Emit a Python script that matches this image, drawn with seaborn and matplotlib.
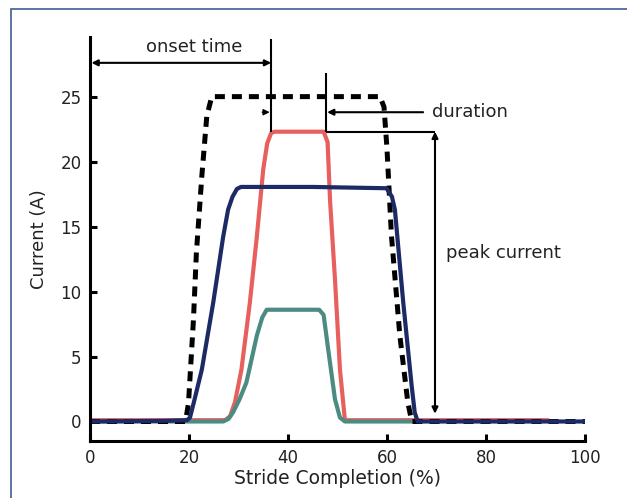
import matplotlib
matplotlib.use("Agg")
import matplotlib.pyplot as plt
import seaborn as sns
from matplotlib.patches import Rectangle

# stride completion (%) / current (A)
stride_dash = [0, 19.3, 19.9, 20.9, 21.5, 22.6, 23.6, 24.6, 58.6, 59.4, 60.0,
               60.9, 62.6, 64.2, 65.0, 100]
current_dash = [0, 0, 1.4, 7.8, 13, 18.9, 23.5, 25, 25, 24.2, 21,
                14.3, 6.6, 1.5, 0, 0]

stride_red = [0, 27.3, 28.3, 29.3, 30.6, 32.3, 33.7, 35.0, 35.8, 36.6, 37.3,
              47.2, 48.0, 48.5, 49.5, 50.5, 51.5, 92.5]
current_red = [0.1, 0.1, 0.4, 1.5, 4.0, 9.15, 14.2, 19.4, 21.4, 22.2, 22.3,
               22.3, 21.5, 17, 10.9, 4, 0.1, 0.1]

stride_teal = [0, 26.9, 28.0, 28.9, 30.2, 31.6, 33.7, 34.8, 35.7, 46.3, 47.2,
               48.0, 49.5, 50.5, 51.5, 65.5]
current_teal = [0, 0, 0.2, 0.7, 1.7, 3.0, 6.6, 8.0, 8.6, 8.6, 8.2,
                5.9, 1.7, 0.3, 0, 0]

stride_blue = [0, 15, 19.6, 20.2, 21.0, 22.6, 24.9, 26.9, 27.9, 28.8, 29.7,
               30.5, 45, 59.9, 61.0, 61.6, 63.3, 65.0, 65.6, 66.2, 100]
current_blue = [0, 0.05, 0.1, 0.3, 1.5, 4.0, 9.15, 14.2, 16.3, 17.3, 17.9,
                18.05, 18.05, 17.95, 17.3, 16.3, 9.1, 2.7, 0.7, 0, 0]

x_ticks = [0, 20, 40, 60, 80, 100]
y_ticks = [0, 5, 10, 15, 20, 25]

# annotation anchors
onset_x = 36.6
end_x = 47.7
peak_y = 22.3
peak_x = 69.7

sns.set_style("ticks")
plt.rcParams['font.family'] = ['DejaVu Sans']
text_color = "#222222"

fig = plt.figure(figsize=(6.27, 4.98), dpi=100)
ax = fig.add_axes([0.1435, 0.1145, 0.7895, 0.8115])

sns.lineplot(x=stride_red, y=current_red, ax=ax, color="#e8605e", lw=3.0, sort=False)
sns.lineplot(x=stride_teal, y=current_teal, ax=ax, color="#4b8b82", lw=3.0, sort=False)
sns.lineplot(x=stride_dash, y=current_dash, ax=ax, color="black", lw=3.6, sort=False)
ax.lines[-1].set_dashes((2.0, 1.4))
sns.lineplot(x=stride_blue, y=current_blue, ax=ax, color="#1c2a66", lw=3.0, sort=False)
for ln in ax.lines:
    ln.set_solid_joinstyle("round")

# annotations
ax.plot([onset_x, onset_x], [peak_y, 29.4], color="black", lw=1.5, solid_capstyle="butt")
ax.plot([end_x, end_x], [peak_y, 26.8], color="black", lw=1.5, solid_capstyle="butt")
ax.plot([end_x, peak_x], [peak_y, peak_y], color="black", lw=1.5, solid_capstyle="butt")
ax.annotate("", xy=(0.3, 27.6), xytext=(onset_x, 27.6),
            arrowprops=dict(arrowstyle="<|-|>", color="black", lw=1.5,
                            shrinkA=0, shrinkB=0, mutation_scale=9))
ax.text(21, 28.15, "onset time", ha="center", va="bottom", fontsize=13, color=text_color)
ax.annotate("", xy=(end_x + 0.2, 23.8), xytext=(67.3, 23.8),
            arrowprops=dict(arrowstyle="-|>", color="black", lw=1.5,
                            shrinkA=0, shrinkB=0, mutation_scale=9))
ax.annotate("", xy=(onset_x - 0.3, 23.8), xytext=(34.8, 23.8),
            arrowprops=dict(arrowstyle="-|>", color="black", lw=1.0,
                            shrinkA=0, shrinkB=0, mutation_scale=9))
ax.text(69.0, 23.8, "duration", ha="left", va="center", fontsize=13, color=text_color)
ax.annotate("", xy=(peak_x, 0.6), xytext=(peak_x, peak_y),
            arrowprops=dict(arrowstyle="<|-|>", color="black", lw=1.5,
                            shrinkA=0, shrinkB=0, mutation_scale=9))
ax.text(72, 13.0, "peak current", ha="left", va="center", fontsize=13, color=text_color)

ax.set_xlim(0, 100)
ax.set_ylim(-1.5, 29.6)
ax.set_xticks(x_ticks)
ax.set_yticks(y_ticks)
ax.set_xlabel("Stride Completion (%)", fontsize=13.5, color=text_color, labelpad=1)
ax.set_ylabel("Current (A)", fontsize=13, color=text_color, labelpad=9)
ax.tick_params(direction="in", length=5, width=2.2, labelsize=12, colors="black",
               labelcolor=text_color, pad=6)
sns.despine(ax=ax)
for side in ["left", "bottom"]:
    ax.spines[side].set_linewidth(2.2)
    ax.spines[side].set_color("black")

# outer frame
fig.patches.append(Rectangle((0.0175, -0.1), 1.2, 1.082, transform=fig.transFigure,
                             fill=False, edgecolor="#3d5f8f", lw=1.2, clip_on=False))

fig.savefig("out.png", dpi=100)
